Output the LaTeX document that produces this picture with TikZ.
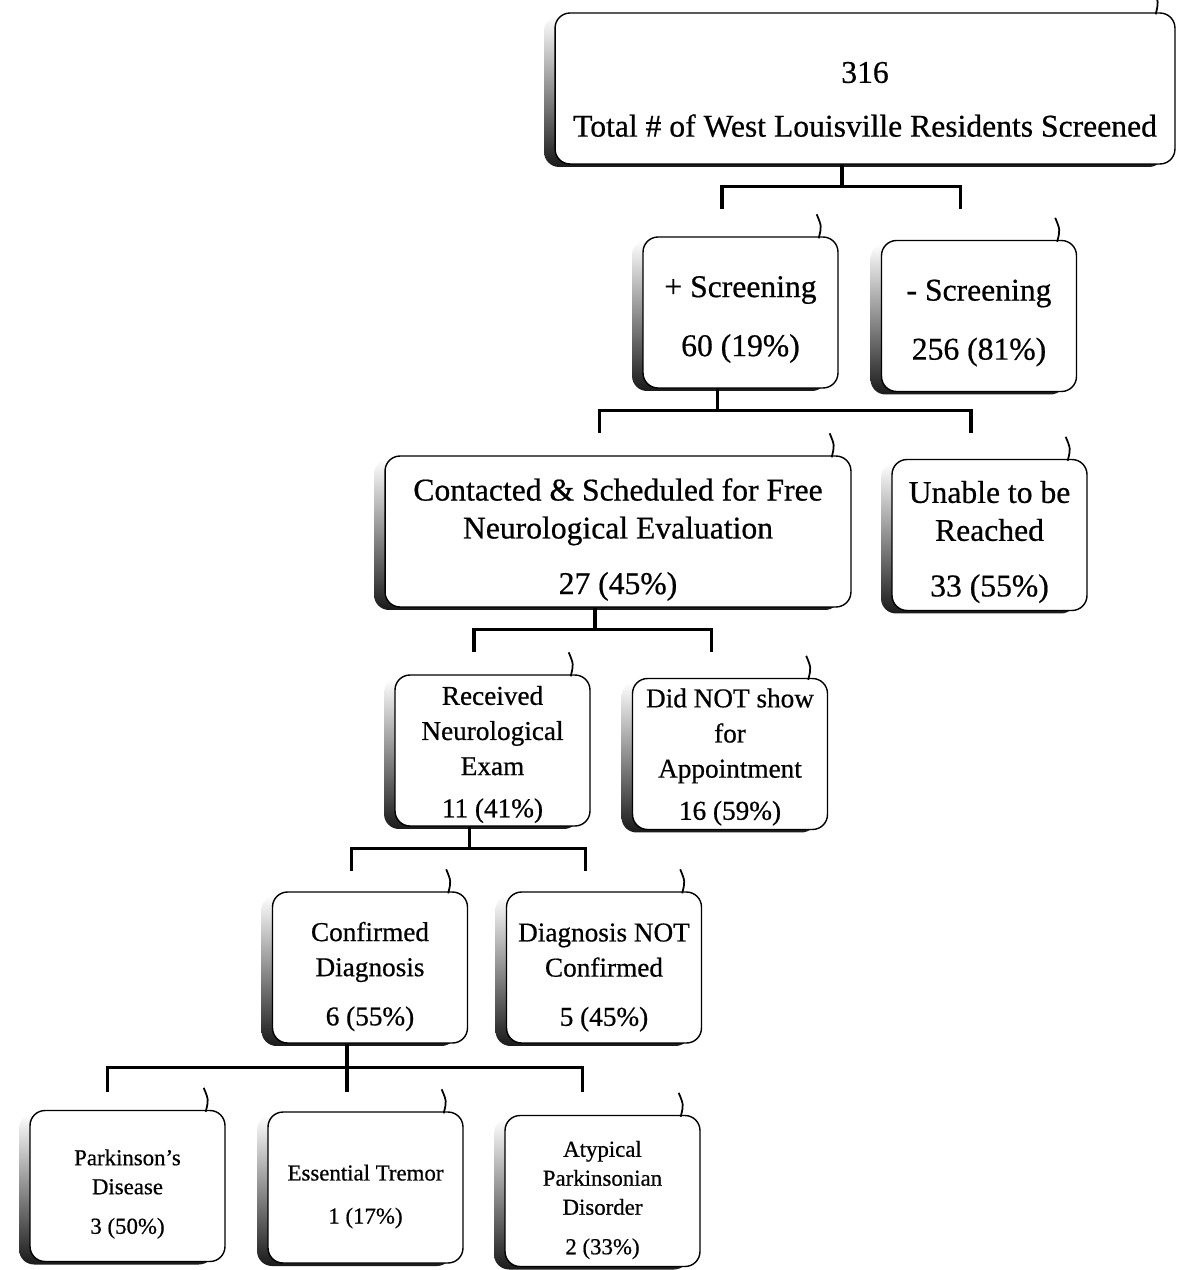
\documentclass[tikz,border=0pt]{standalone}
\usepackage{fontspec}
\setmainfont{Liberation Serif}[FakeBold=0.6]
\usetikzlibrary{calc,shadows}

\tikzset{
  box/.style={draw, line width=0.8pt, fill=white, rounded corners=0.3cm,
    inner sep=0pt, minimum width=3.9cm, minimum height=3.02cm,
    general shadow={shadow xshift=-0.22cm, shadow yshift=-0.06cm,
      top color=white, middle color=black!35, bottom color=black!90}},
  txt/.style={align=center, inner sep=0pt},
  link/.style={line width=2pt},
  hook/.style={line width=1pt},
  bigtxt/.style={txt, font=\fontsize{18}{21.6}\selectfont},
  midtxt/.style={txt, font=\fontsize{15.5}{20}\selectfont},
  smalltxt/.style={txt, font=\fontsize{13}{16.5}\selectfont}
}

\begin{document}
\begin{tikzpicture}[x=0.02cm,y=-0.02cm]
\useasboundingbox (0,0) rectangle (1185,1270);

% boxes
\node[box,minimum width=12.4cm] (top) at (865,88.5) {};
\node[box] (pos) at (740.5,312.5) {};
\node[box] (neg) at (979,316) {};
\node[box,minimum width=9.32cm] (cont) at (618,531.5) {};
\node[box] (unab) at (989.5,535) {};
\node[box] (recv) at (492.5,750.5) {};
\node[box] (noshow) at (730,754) {};
\node[box] (conf) at (370,967.5) {};
\node[box] (notconf) at (604,967.5) {};
\node[box] (pd) at (127.5,1186) {};
\node[box] (et) at (365.5,1187.5) {};
\node[box] (apd) at (602.5,1191) {};

% texts
\node[bigtxt] (top-t) at ([yshift=-0.22cm]top) {316\\[9pt]Total \# of West Louisville Residents Screened};
\node[bigtxt] (pos-t) at ([yshift=-0.14cm]pos) {+ Screening\\[12pt]60 (19\%)};
\node[bigtxt] (neg-t) at ([yshift=-0.14cm]neg) {- Screening\\[12pt]256 (81\%)};
\node[bigtxt] (cont-t) at ([yshift=-0.16cm]cont) {Contacted \& Scheduled for Free\\Neurological Evaluation\\[10pt]27 (45\%)};
\node[bigtxt] (unab-t) at ([yshift=-0.14cm]unab) {Unable to be\\Reached\\[10pt]33 (55\%)};
\node[midtxt] (recv-t) at ([yshift=-0.08cm]recv) {Received\\Neurological\\Exam\\[4pt]11 (41\%)};
\node[midtxt] (noshow-t) at ([yshift=-0.06cm]noshow) {Did NOT show\\for\\Appointment\\[4pt]16 (59\%)};
\node[midtxt] (conf-t) at ([yshift=-0.18cm]conf) {Confirmed\\Diagnosis\\[8pt]6 (55\%)};
\node[midtxt] (notconf-t) at ([yshift=-0.2cm]notconf) {Diagnosis NOT\\Confirmed\\[8pt]5 (45\%)};
\node[smalltxt] (pd-t) at ([yshift=-0.16cm]pd) {Parkinson's\\Disease\\[6pt]3 (50\%)};
\node[smalltxt] (et-t) at ([yshift=-0.18cm]et) {Essential Tremor\\[8pt]1 (17\%)};
\node[smalltxt] (apd-t) at ([yshift=-0.18cm]apd) {Atypical\\Parkinsonian\\Disorder\\[6pt]2 (33\%)};

% little marks at the corners
\foreach \n in {top,pos,neg,cont,unab,recv,noshow,conf,notconf,pd,et,apd}
  \draw[hook] ([xshift=-0.4cm,yshift=-0.04cm]\n.north east) .. controls +(3,-12) .. +(-2,-24);

% brackets
\foreach \p/\a/\b in {top/pos/neg,pos/cont/unab,cont/recv/noshow,recv/conf/notconf}{
  \draw[link] ([xshift=-0.46cm]\p.south) -- ++(0,22) coordinate (j);
  \draw[link] ($(j -| \a)+(-18.5,22)$) |- (j) -| ($(j -| \b)+(-18.5,22)$);
}
\draw[link] ([xshift=-0.46cm]conf.south) -- ++(0,24) coordinate (j5) -- ++(0,24);
\draw[link] ($(j5 -| pd)+(-20,24)$) |- (j5) -| ($(j5 -| apd)+(-20,24)$);
\end{tikzpicture}
\end{document}
